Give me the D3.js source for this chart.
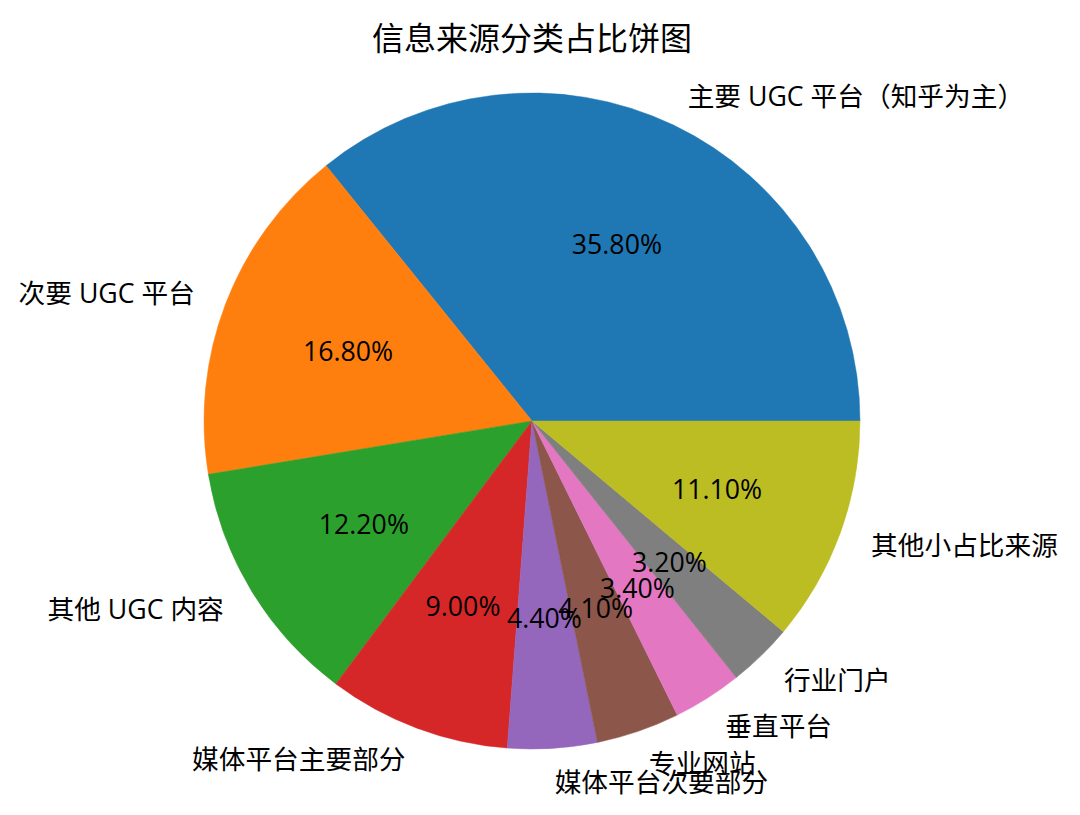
<!DOCTYPE html>
<html><head><meta charset="utf-8">
<script src="https://cdn.jsdelivr.net/npm/d3@7"></script>
<style>html,body{margin:0;padding:0;background:#fff;}</style>
</head><body>
<svg id="chart" width="1080" height="815"></svg>
<script>
const title = "信息来源分类占比饼图";
const categories = ["主要 UGC 平台（知乎为主）","次要 UGC 平台","其他 UGC 内容","媒体平台主要部分","媒体平台次要部分","专业网站","垂直平台","行业门户","其他小占比来源"];
const values = [35.8, 16.8, 12.2, 9.0, 4.4, 4.1, 3.4, 3.2, 11.1];
const colors = ["#1f77b4","#ff7f0e","#2ca02c","#d62728","#9467bd","#8c564b","#e377c2","#7f7f7f","#bcbd22"];

const svg = d3.select("#chart");
const cx = 532, cy = 421, r = 328;
const font = "'Open Sans','Noto Sans CJK SC',sans-serif";

svg.append("text").attr("x", 532).attr("y", 36)
  .attr("text-anchor","middle").attr("dominant-baseline","central")
  .style("font-family","'Noto Sans CJK SC',sans-serif").style("font-size","32px").attr("fill","#000")
  .text(title);

const data = categories.map((c,i)=>({label:c, value:values[i], color:colors[i]}));
const pie = d3.pie().value(d=>d.value).sort(null)
  .startAngle(Math.PI/2).endAngle(Math.PI/2 - 2*Math.PI);
const arcs = pie(data);
const arc = d3.arc().innerRadius(0).outerRadius(r);

const g = svg.append("g").attr("transform",`translate(${cx},${cy})`);
g.selectAll("path").data(arcs).join("path")
  .attr("d", arc).attr("fill", d=>d.data.color)
  .attr("stroke", d=>d.data.color).attr("stroke-width",0.5);

function pos(d, k){
  const a = (d.startAngle + d.endAngle)/2;
  return [Math.sin(a)*r*k, -Math.cos(a)*r*k];
}

g.selectAll("text.lbl").data(arcs).join("text").attr("class","lbl")
  .attr("x", d=>pos(d,1.1)[0]).attr("y", d=>pos(d,1.1)[1])
  .attr("text-anchor", d=>pos(d,1.1)[0] > 0 ? "start" : "end")
  .attr("dominant-baseline","central")
  .style("font-family",font).style("font-size","26.7px").attr("fill","#000")
  .text(d=>d.data.label);

g.selectAll("text.pct").data(arcs).join("text").attr("class","pct")
  .attr("x", d=>pos(d,0.6)[0]).attr("y", d=>pos(d,0.6)[1])
  .attr("text-anchor","middle").attr("dominant-baseline","central")
  .style("font-family",font).style("font-size","26.7px").attr("fill","#000")
  .text(d=>d.data.value.toFixed(2)+"%");
</script>
</body></html>
